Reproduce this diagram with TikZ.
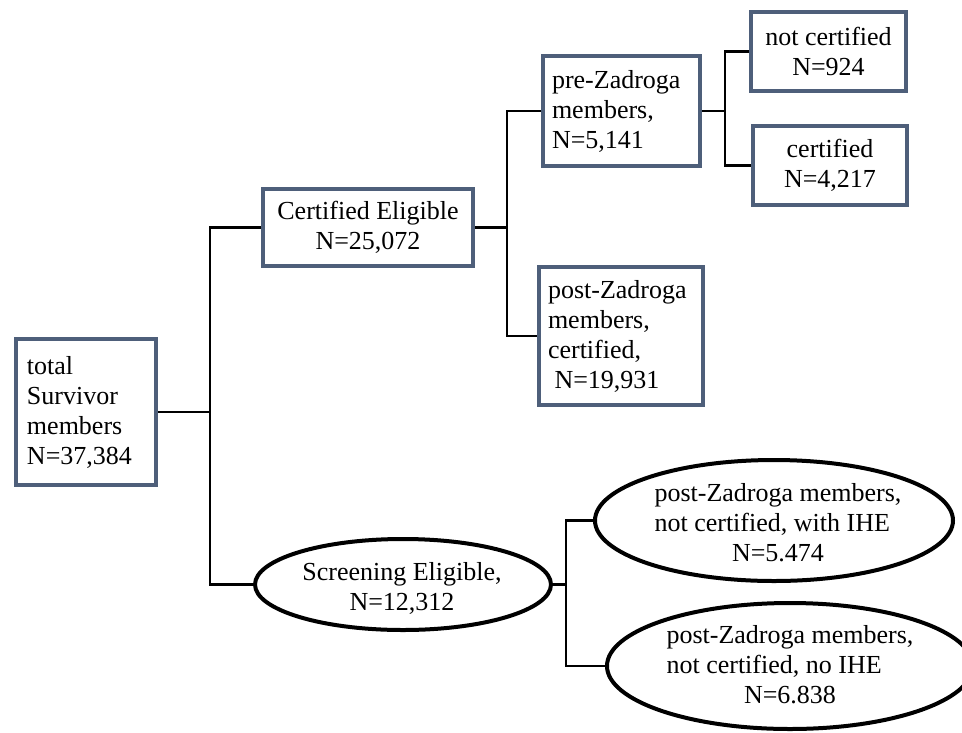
\documentclass[tikz,border=0pt]{standalone}
\usepackage{fontspec}
\setmainfont{Liberation Serif}
\usetikzlibrary{shapes.geometric}
\definecolor{boxc}{RGB}{78,95,122}
\begin{document}
\begin{tikzpicture}[x=1pt,y=-1pt,
  every node/.style={font=\fontsize{26}{30}\selectfont, inner sep=0pt},
  rbox/.style={draw=boxc, line width=4pt, rectangle, fill=white},
  ell/.style={draw=black, line width=4pt, ellipse, fill=white, inner sep=0pt},
  conn/.style={draw=black, line width=2.5pt}]
\useasboundingbox (0,0) rectangle (962,732);
\clip (0,0) rectangle (962,732);
\fill[white] (0,0) rectangle (962,732);

% boxes
\node[rbox, minimum width=140, minimum height=146, text width=118, align=left] (total) at (86,412)
  {total\\Survivor\\members\\N=37,384};
\node[rbox, minimum width=210, minimum height=77, align=center] (cert) at (368,227.5)
  {Certified Eligible\\N=25,072};
\node[rbox, minimum width=157, minimum height=110, text width=139, align=left] (pre) at (621.5,111)
  {pre-Zadroga\\members,\\N=5,141};
\node[rbox, minimum width=155, minimum height=79, align=center] (notcert) at (828.5,51.5)
  {not certified\\N=924};
\node[rbox, minimum width=154, minimum height=79, align=center] (certd) at (830,165.5)
  {certified\\N=4,217};
\node[rbox, minimum width=164, minimum height=138, text width=146, align=left] (post) at (621,336)
  {post-Zadroga\\members,\\certified,\\\hspace*{0.25em}N=19,931};

% ellipses
\node[ell, minimum width=296, minimum height=91] (scr) at (403,584.5) {};
\node[align=center] (scrtext) at (402,588) {Screening Eligible,\\N=12,312};
\node[ell, minimum width=358, minimum height=121] (up) at (774,520.5) {};
\node[align=center] (uptext) at (778,523)
  {post-Zadroga members,\\\rlap{not certified, with IHE}\phantom{post-Zadroga members,}\\N=5.474};
\node[ell, minimum width=366, minimum height=126] (low) at (790,666) {};
\node[align=center] (lowtext) at (790,665)
  {post-Zadroga members,\\\rlap{not certified, no IHE}\phantom{post-Zadroga members,}\\N=6.838};

% junctions
\coordinate (j1) at (210,412);
\coordinate (j2) at (507,227.5);
\coordinate (j3) at (725,111);
\coordinate (j4) at (566,584.5);

% connectors
\draw[conn] (total.east) -- (j1);
\draw[conn] (cert.west) -| (j1) |- (scr.west);
\draw[conn] (cert.east) -- (j2);
\draw[conn] (pre.west) -| (j2) |- (post.west);
\draw[conn] (pre.east) -- (j3);
\draw[conn] (notcert.west) -| (j3) |- (certd.west);
\draw[conn] (scr.east) -- (j4);
\draw[conn] (up.west) -| (j4) |- (low.west);
\end{tikzpicture}
\end{document}
